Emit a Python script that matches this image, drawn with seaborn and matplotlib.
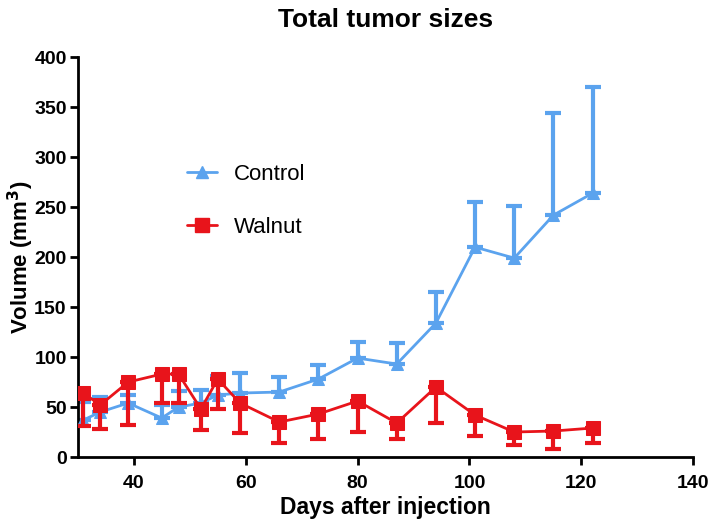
import numpy as np
import pandas as pd
import matplotlib
matplotlib.use("Agg")
import matplotlib.pyplot as plt
import seaborn as sns
from matplotlib.lines import Line2D

# days after injection
days = [31, 34, 39, 45, 48, 52, 55, 59, 66, 73, 80, 87, 94, 101, 108, 115, 122]

# control group: mean volume and top of the (upper only) error bar
control_mean = [37, 45, 54, 39, 50, 54, 62, 64, 65, 78, 99, 93, 134, 210, 199, 242, 264]
control_top = [55, 60, 62, 52, 66, 67, 81, 84, 80, 92, 115, 114, 165, 255, 251, 344, 370]

# walnut group: mean volume and bottom of the (lower only) error bar
walnut_mean = [64, 52, 75, 83, 83, 48, 78, 54, 35, 43, 56, 34, 70, 42, 25, 26, 29]
walnut_bottom = [31, 28, 32, 54, 54, 27, 48, 24, 14, 18, 25, 18, 34, 21, 12, 8, 14]

blue = "#5BA3EE"
red = "#E8141B"

sns.set_style("ticks", {"text.color": "black", "axes.labelcolor": "black",
                        "xtick.color": "black", "ytick.color": "black",
                        "axes.edgecolor": "black"})
plt.rcParams['font.family'] = ['Liberation Sans', 'DejaVu Sans']

df = pd.DataFrame({
    "day": days * 2,
    "volume": control_mean + walnut_mean,
    "group": ["Control"] * len(days) + ["Walnut"] * len(days),
})

fig = plt.figure(figsize=(7.14, 5.25), dpi=100)
ax = fig.add_axes([0.109, 0.1295, 0.862, 0.7615])

# error bars: control goes up, walnut goes down
c_mean = np.array(control_mean)
w_mean = np.array(walnut_mean)
ax.errorbar(days, c_mean, yerr=[np.zeros_like(c_mean), np.array(control_top) - c_mean],
            fmt="none", ecolor=blue, elinewidth=3, capsize=5.5, capthick=3, zorder=2)
ax.errorbar(days, w_mean, yerr=[w_mean - np.array(walnut_bottom), np.zeros_like(w_mean)],
            fmt="none", ecolor=red, elinewidth=3, capsize=5.5, capthick=3, zorder=4)

sns.lineplot(data=df[df.group == "Control"], x="day", y="volume", color=blue,
             marker="^", markersize=8.5, markeredgecolor=blue, linewidth=2,
             ax=ax, zorder=3, legend=False)
sns.lineplot(data=df[df.group == "Walnut"], x="day", y="volume", color=red,
             marker="s", markersize=9.5, markeredgecolor=red, linewidth=2,
             ax=ax, zorder=5, legend=False)

ax.set_xlim(30, 140)
ax.set_ylim(0, 400)
ax.set_xticks(np.arange(40, 141, 20))
ax.set_yticks(np.arange(0, 401, 50))
sns.despine(ax=ax)
for side in ["left", "bottom"]:
    ax.spines[side].set_linewidth(2)
    ax.spines[side].set_color("black")
ax.tick_params(axis="both", direction="out", length=6, width=2, color="black",
               labelcolor="black", labelsize=14)
ax.tick_params(axis="x", pad=7)
ax.tick_params(axis="y", pad=2)
for lab in ax.get_xticklabels() + ax.get_yticklabels():
    lab.set_fontweight("bold")

ax.set_xlabel("Days after injection", fontsize=16.5, fontweight="bold", labelpad=3, color="black")
ax.set_ylabel("Volume (mm$^\\mathbf{3}$)", fontsize=16, fontweight="bold", labelpad=-1, color="black")
ax.set_title("Total tumor sizes", fontsize=19, fontweight="bold", pad=22, color="black")

handles = [
    Line2D([], [], color=blue, marker="^", markersize=8.5, linewidth=2),
    Line2D([], [], color=red, marker="s", markersize=9.5, linewidth=2),
]
leg = ax.legend(handles, ["Control", "Walnut"], loc="center left",
                bbox_to_anchor=(0.159, 0.641), frameon=False, fontsize=16,
                handlelength=1.35, handletextpad=0.78, labelspacing=1.45, borderpad=0)
for t in leg.get_texts():
    t.set_color("black")

fig.savefig("out.png", dpi=100)
